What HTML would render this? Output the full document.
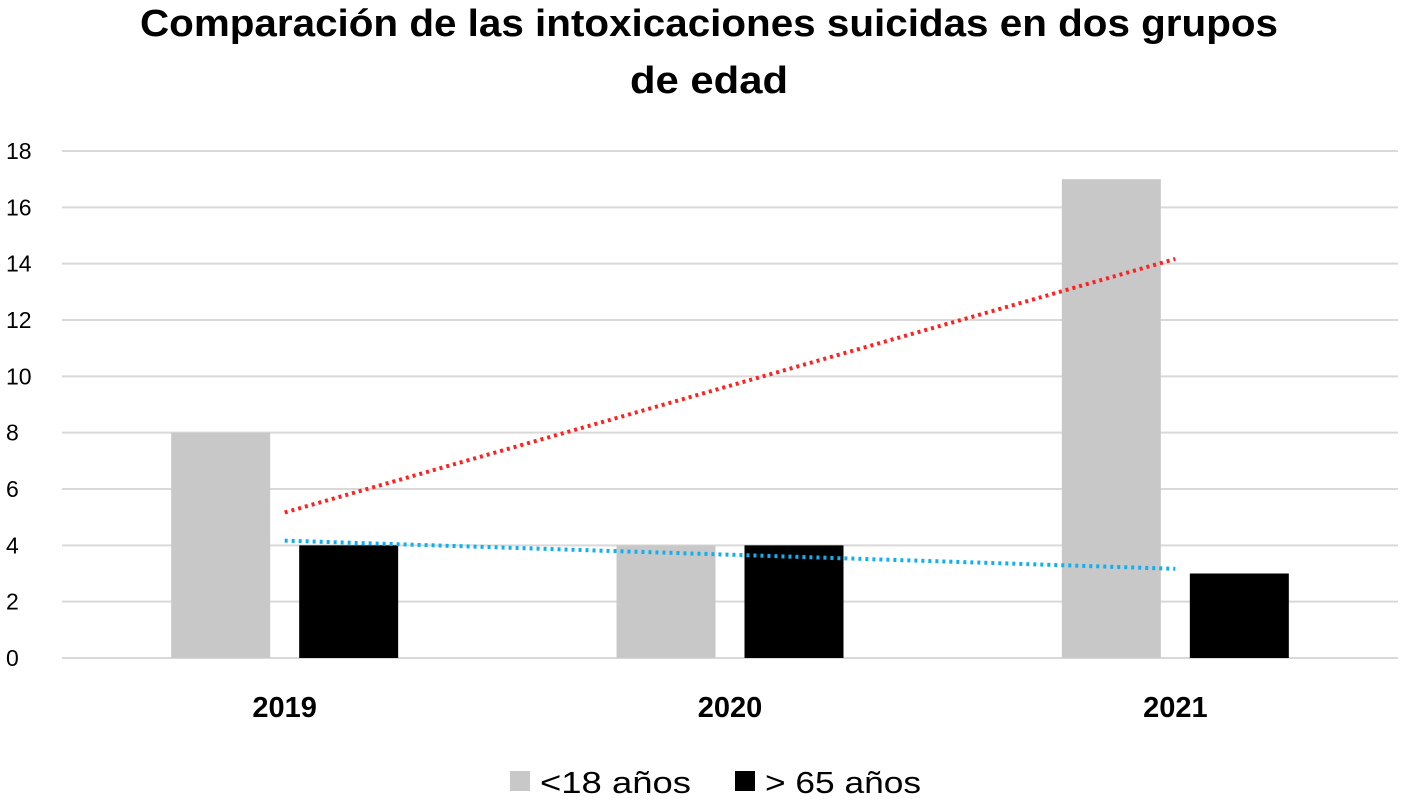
<!DOCTYPE html>
<html><head><meta charset="utf-8"><style>
html,body{margin:0;padding:0;background:#fff;}
svg{display:block;font-family:"Liberation Sans",sans-serif;}
</style></head><body>
<svg id="chart" width="1405" height="801" viewBox="0 0 1405 801">
<text x="709" y="36" text-anchor="middle" font-size="38" font-weight="bold" textLength="1138" lengthAdjust="spacingAndGlyphs" fill="#000">Comparación de las intoxicaciones suicidas en dos grupos</text>
<text x="709" y="93" text-anchor="middle" font-size="38" font-weight="bold" textLength="158" lengthAdjust="spacingAndGlyphs" fill="#000">de edad</text>
<g id="grid"></g>
<g id="yticks"></g>
<g id="bars"></g>
<g id="trends"></g>
<g id="xticks"></g>
<g>
<rect x="510" y="771" width="20" height="20" fill="#c8c8c8"/>
<text x="540" y="793" font-size="31" textLength="151" lengthAdjust="spacingAndGlyphs" fill="#000">&lt;18 años</text>
<rect x="735" y="771" width="20" height="20" fill="#000"/>
<text x="765" y="793" font-size="31" textLength="156" lengthAdjust="spacingAndGlyphs" fill="#000">&gt; 65 años</text>
</g>
</svg>
<script>
const categories = ["2019","2020","2021"];
const under18 = [8, 4, 17];
const over65 = [4, 4, 3];
const yTicks = [0,2,4,6,8,10,12,14,16,18];
const NS="http://www.w3.org/2000/svg";
const x0=62,x1=1398,yB=658,yT=151,yMax=18;
const y=v=>yB-(yB-yT)*v/yMax;
const gw=(x1-x0)/categories.length;
const cx=i=>x0+gw*(i+0.5);
function mk(t,a,p){const e=document.createElementNS(NS,t);for(const k in a)e.setAttribute(k,a[k]);p.appendChild(e);return e;}
const grid=document.getElementById('grid'),yt=document.getElementById('yticks');
yTicks.forEach(v=>{
 const l=mk('line',{x1:x0,x2:x1,y1:y(v),y2:y(v),stroke:'#d9d9d9','stroke-width':2},grid);
 
 
 const t=mk('text',{x:6,y:y(v)+8,'font-size':23,fill:'#000'},yt);t.textContent=v;
 
 
});
const bars=document.getElementById('bars'),xt=document.getElementById('xticks');
const bw=99,gap=29;
categories.forEach((c,i)=>{
 const g=mk('rect',{x:cx(i)-gap/2-bw,y:y(under18[i]),width:bw,height:yB-y(under18[i]),fill:'#c8c8c8'},bars);
 
 
 const b=mk('rect',{x:cx(i)+gap/2,y:y(over65[i]),width:bw,height:yB-y(over65[i]),fill:'#000'},bars);
 
 
 const t=mk('text',{x:cx(i),y:717,'text-anchor':'middle','font-size':29,'font-weight':'bold',fill:'#000'},xt);t.textContent=c;
 
 
});
function trend(arr,color,name){
 const n=arr.length,mx=(n-1)/2,my=arr.reduce((a,b)=>a+b,0)/n;
 let num=0,den=0;arr.forEach((v,i)=>{num+=(i-mx)*(v-my);den+=(i-mx)*(i-mx);});
 const s=num/den,a=my-s*mx;
 const l=mk('line',{x1:cx(0),y1:y(a),x2:cx(n-1),y2:y(a+s*(n-1)),stroke:color,'stroke-width':4,'stroke-dasharray':'3 4'},document.getElementById('trends'));
 
 
}
trend(under18,'#ff2020','trendline-under18');
trend(over65,'#10b0f0','trendline-over65');
</script>
</body></html>
